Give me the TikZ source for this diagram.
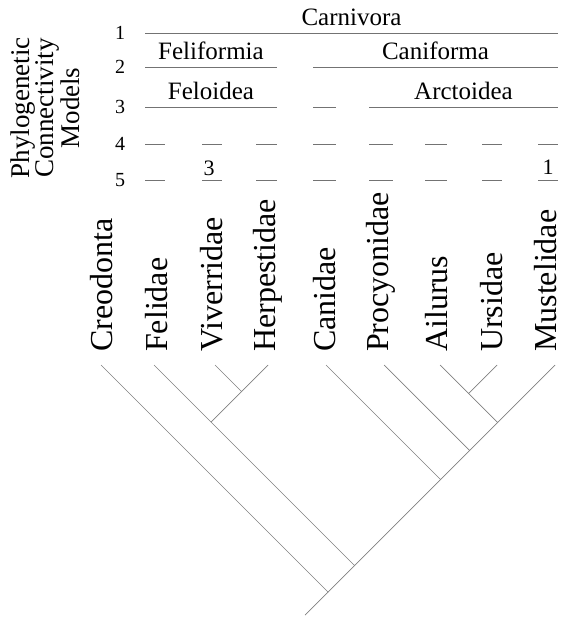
\documentclass[tikz,border=0pt]{standalone}
\usepackage{fontspec}
\setmainfont{Liberation Serif}
\usepackage{tikz}
\usetikzlibrary{positioning}

\begin{document}
\begin{tikzpicture}[x=1pt, y=-1pt,
        branch/.style={draw=black!50, line width=0.7pt},
        rule/.style={draw=black!55, line width=0.9pt},
        taxon/.style={rotate=90, anchor=base west, inner sep=0pt, font=\fontsize{32}{38}\selectfont},
        group/.style={inner sep=0pt, font=\fontsize{25}{30}\selectfont},
        level/.style={inner sep=0pt, font=\fontsize{20}{24}\selectfont}]
        \useasboundingbox (0,0) rectangle (562,617);

        % side title and model levels
        \node[rotate=90, align=center, inner sep=0pt, font=\fontsize{27}{24}\selectfont] (models) at (45,108) {Phylogenetic\\Connectivity\\Models};
        \foreach \n/\y in {1/33,2/67,3/107,4/144,5/180}
            \node[level] (lv\n) at (120,\y) {\n};

        % group bars
        \draw[rule] (145,33) -- (558,33) node[group, midway, above=7pt] (carnivora) {Carnivora};
        \draw[rule] (145,67) -- (277,67) node[group, midway, above=7pt] (feliformia) {Feliformia};
        \draw[rule] (313,67) -- (558,67) node[group, midway, above=7pt] (caniforma) {Caniforma};
        \draw[rule] (145,107) -- (277,107) node[group, midway, above=7pt] (feloidea) {Feloidea};
        \draw[rule] (313,107) -- (336,107);
        \draw[rule] (369,107) -- (558,107) node[group, midway, above=7pt] (arctoidea) {Arctoidea};
        \foreach \l/\r in {145/165,202/222,256/277,313/336,369/393,425/447,482/502,538/558} {
            \draw[rule] (\l,144) -- (\r,144);
            \draw[rule] (\l,180) -- (\r,180);
        }
        \node[level, font=\fontsize{22}{26}\selectfont, above=4pt] (three) at (209,180) {3};
        \node[level, font=\fontsize{22}{26}\selectfont, above=5pt] (one) at (548,180) {1};

        % taxa
        \foreach \lab/\id/\bx/\tx in {Creodonta/cre/112/101, Felidae/fel/167/154, Viverridae/viv/222/215,
                Herpestidae/her/275/268, Canidae/can/335/326, Procyonidae/pro/388/384,
                Ailurus/ail/447/440, Ursidae/urs/502/497, Mustelidae/mus/556/555} {
            \node[taxon] (l-\id) at (\bx,352) {\lab};
            \coordinate (\id) at (\tx,365);
        }

        % tree
        \coordinate (vh) at (241.5,391.5);
        \coordinate (fvh) at (211,422);
        \coordinate (au) at (468.5,393.5);
        \coordinate (aum) at (497.5,422.5);
        \coordinate (paum) at (469.5,450.5);
        \coordinate (cpaum) at (440.5,479.5);
        \coordinate (felcan) at (354.5,565.5);
        \coordinate (root) at (328,592);
        \coordinate (base) at (305,615);

        \draw[branch] (viv) -- (vh) -- (her);
        \draw[branch] (fel) -- (fvh) -- (vh);
        \draw[branch] (ail) -- (au) -- (urs);
        \draw[branch] (au) -- (aum) -- (mus);
        \draw[branch] (aum) -- (paum) -- (pro);
        \draw[branch] (paum) -- (cpaum) -- (can);
        \draw[branch] (fvh) -- (felcan) -- (cpaum);
        \draw[branch] (cre) -- (root) -- (felcan);
        \draw[branch] (root) -- (base);
    \end{tikzpicture}
\end{document}
